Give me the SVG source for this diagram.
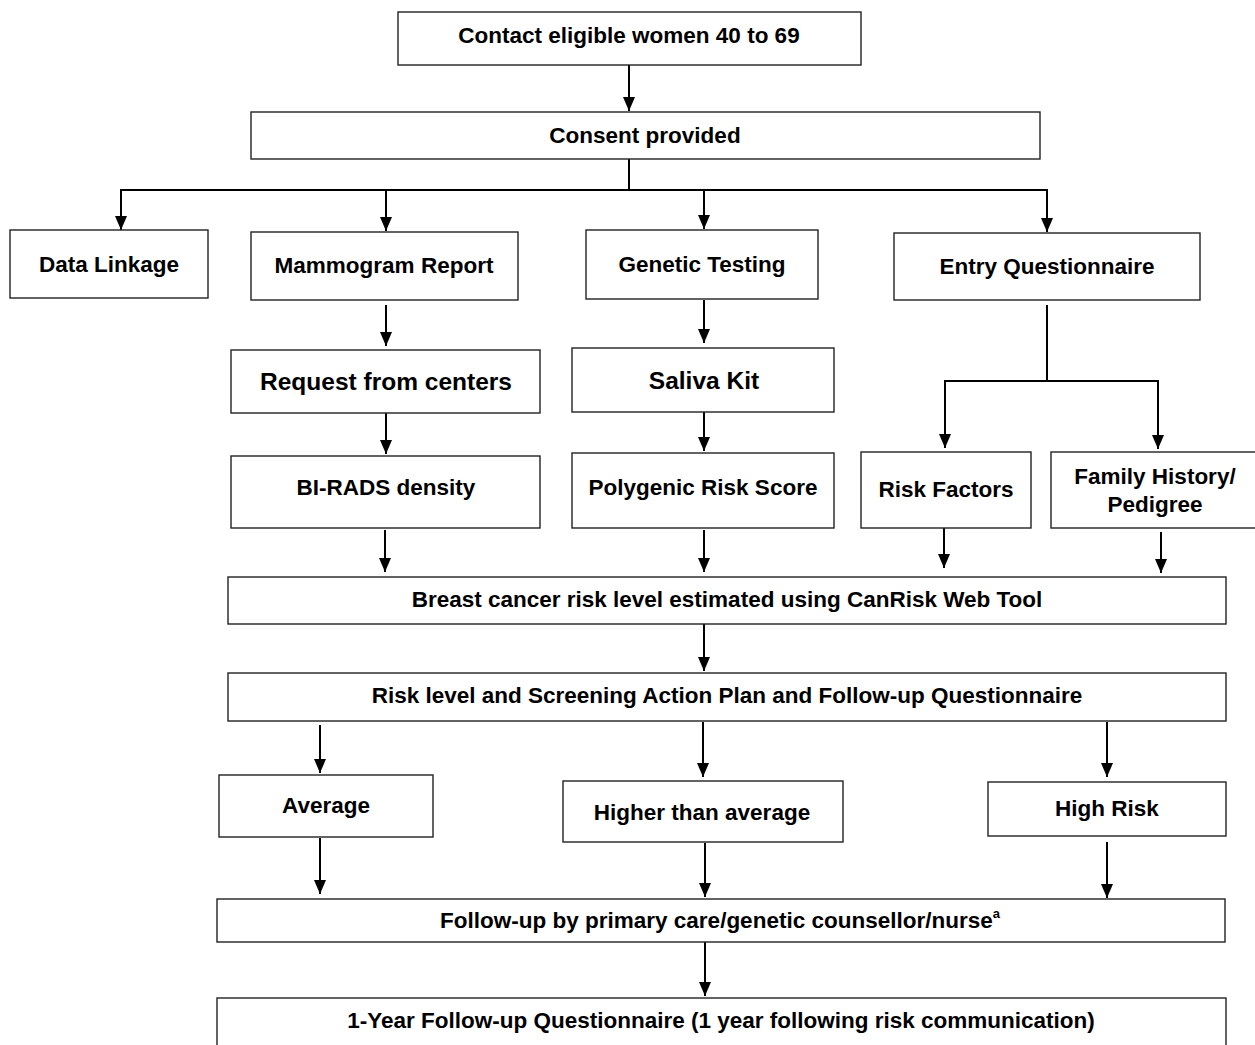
<svg xmlns="http://www.w3.org/2000/svg" width="1255" height="1045" viewBox="0 0 1255 1045">
<style>
.box{fill:#fff;stroke:#222;stroke-width:1.4}
.t{font-family:"Liberation Sans",Arial,sans-serif;font-weight:bold;font-size:22.5px;fill:#000;text-anchor:middle;dominant-baseline:central}
.tl{font-size:24.5px}
.c{fill:none;stroke:#000;stroke-width:2}
</style>
<defs>
<marker id="ah" viewBox="0 0 14 12" refX="14" refY="6" markerWidth="14" markerHeight="12" markerUnits="userSpaceOnUse" orient="auto">
<path d="M0,0 L14,6 L0,12 z" fill="#000"/>
</marker>
</defs>
<rect width="1255" height="1045" fill="#fff"/>
<g id="connectors">
<line class="c" x1="629" y1="65" x2="629" y2="111" marker-end="url(#ah)"/>
<polyline class="c" points="629,159 629,190"/>
<polyline class="c" points="121,190 1047,190"/>
<line class="c" x1="121" y1="189" x2="121" y2="230" marker-end="url(#ah)"/>
<line class="c" x1="386" y1="189" x2="386" y2="231" marker-end="url(#ah)"/>
<line class="c" x1="704" y1="189" x2="704" y2="229" marker-end="url(#ah)"/>
<line class="c" x1="1047" y1="189" x2="1047" y2="232" marker-end="url(#ah)"/>
<line class="c" x1="386" y1="305" x2="386" y2="346" marker-end="url(#ah)"/>
<line class="c" x1="704" y1="300" x2="704" y2="343" marker-end="url(#ah)"/>
<polyline class="c" points="1047,305 1047,381"/>
<polyline class="c" points="945,381 1158,381"/>
<line class="c" x1="945" y1="380" x2="945" y2="448" marker-end="url(#ah)"/>
<line class="c" x1="1158" y1="380" x2="1158" y2="449" marker-end="url(#ah)"/>
<line class="c" x1="386" y1="413" x2="386" y2="454" marker-end="url(#ah)"/>
<line class="c" x1="704" y1="412" x2="704" y2="451" marker-end="url(#ah)"/>
<line class="c" x1="385" y1="530" x2="385" y2="572" marker-end="url(#ah)"/>
<line class="c" x1="704" y1="530" x2="704" y2="572" marker-end="url(#ah)"/>
<line class="c" x1="944" y1="528" x2="944" y2="568" marker-end="url(#ah)"/>
<line class="c" x1="1161" y1="532" x2="1161" y2="573" marker-end="url(#ah)"/>
<line class="c" x1="704" y1="624" x2="704" y2="671" marker-end="url(#ah)"/>
<line class="c" x1="320" y1="725" x2="320" y2="773" marker-end="url(#ah)"/>
<line class="c" x1="703" y1="722" x2="703" y2="777" marker-end="url(#ah)"/>
<line class="c" x1="1107" y1="722" x2="1107" y2="777" marker-end="url(#ah)"/>
<line class="c" x1="320" y1="838" x2="320" y2="894" marker-end="url(#ah)"/>
<line class="c" x1="705" y1="843" x2="705" y2="897" marker-end="url(#ah)"/>
<line class="c" x1="1107" y1="842" x2="1107" y2="898" marker-end="url(#ah)"/>
<line class="c" x1="705" y1="942" x2="705" y2="996" marker-end="url(#ah)"/>
</g>
<g id="contact"><rect class="box" x="398" y="12" width="463" height="53"/><text class="t" x="629" y="35">Contact eligible women 40 to 69</text></g>
<g id="consent"><rect class="box" x="251" y="112" width="789" height="47"/><text class="t" x="645" y="135">Consent provided</text></g>
<g id="datalinkage"><rect class="box" x="10" y="230" width="198" height="68"/><text class="t" x="109" y="264">Data Linkage</text></g>
<g id="mammogram"><rect class="box" x="251" y="232" width="267" height="68"/><text class="t" x="384" y="265">Mammogram Report</text></g>
<g id="genetic"><rect class="box" x="586" y="230" width="232" height="69"/><text class="t" x="702" y="264">Genetic Testing</text></g>
<g id="entry"><rect class="box" x="894" y="233" width="306" height="67"/><text class="t" x="1047" y="266">Entry Questionnaire</text></g>
<g id="request"><rect class="box" x="231" y="350" width="309" height="63"/><text class="t tl" x="386" y="381">Request from centers</text></g>
<g id="saliva"><rect class="box" x="572" y="348" width="262" height="64"/><text class="t tl" x="704" y="380">Saliva Kit</text></g>
<g id="birads"><rect class="box" x="231" y="456" width="309" height="72"/><text class="t" x="386" y="487">BI-RADS density</text></g>
<g id="polygenic"><rect class="box" x="572" y="453" width="262" height="75"/><text class="t" x="703" y="487">Polygenic Risk Score</text></g>
<g id="riskfactors"><rect class="box" x="861" y="452" width="170" height="76"/><text class="t" x="946" y="489">Risk Factors</text></g>
<g id="family"><rect class="box" x="1051" y="452" width="210" height="76"/><text class="t" x="1155" y="476">Family History/</text><text class="t" x="1155" y="504">Pedigree</text></g>
<g id="canrisk"><rect class="box" x="228" y="577" width="998" height="47"/><text class="t" x="727" y="599">Breast cancer risk level estimated using CanRisk Web Tool</text></g>
<g id="plan"><rect class="box" x="228" y="673" width="998" height="48"/><text class="t" x="727" y="695">Risk level and Screening Action Plan and Follow-up Questionnaire</text></g>
<g id="average"><rect class="box" x="219" y="775" width="214" height="62"/><text class="t" x="326" y="805">Average</text></g>
<g id="higher"><rect class="box" x="563" y="781" width="280" height="61"/><text class="t" x="702" y="812">Higher than average</text></g>
<g id="highrisk"><rect class="box" x="988" y="782" width="238" height="54"/><text class="t" x="1107" y="808">High Risk</text></g>
<g id="followup"><rect class="box" x="217" y="899" width="1008" height="43"/><text class="t" x="720" y="920">Follow-up by primary care/genetic counsellor/nurse<tspan font-size="13" dy="-7">a</tspan></text></g>
<g id="oneyear"><rect class="box" x="217" y="998" width="1009" height="60"/><text class="t" x="721" y="1020">1-Year Follow-up Questionnaire (1 year following risk communication)</text></g>
</svg>
